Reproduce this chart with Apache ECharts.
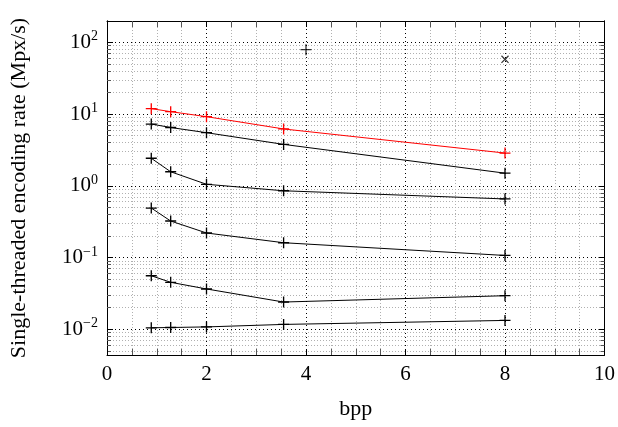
<!DOCTYPE html>
<html><head><meta charset="utf-8">
<script src="https://cdn.jsdelivr.net/npm/echarts@6/dist/echarts.min.js"></script>
<style>html,body{margin:0;padding:0;background:#fff}#c{width:618px;height:427px}</style>
</head><body><div id="c"></div>
<script>
// ---- data ----
var bpp = [0.89, 1.28, 2.0, 3.55, 8.0];
var redRate = [11.9, 10.8, 9.2, 6.2, 2.86];
var rateA = [7.26, 6.5, 5.5, 3.78, 1.50];
var rateB = [2.42, 1.57, 1.05, 0.853, 0.656];
var rateC = [0.49, 0.323, 0.22, 0.161, 0.107];
var rateD = [0.0558, 0.0452, 0.0365, 0.024, 0.0294];
var rateE = [0.0105, 0.0106, 0.0108, 0.0117, 0.0133];
var plusPoint = [4.0, 79];
var crossPoint = [8.0, 58];
var yDecades = [-2, -1, 0, 1, 2];
var xLabel = 'bpp';
var yLabel = 'Single-threaded encoding rate (Mpx/s)';

// ---- build ----
var L = Math.log10;
var yMin = -2.358, yMax = 2.297;
var minorVals = [];
for (var e = -3; e <= 2; e++) for (var k = 2; k <= 9; k++) {
  var v = L(k) + e; if (v > yMin && v < yMax) minorVals.push(v);
}
function pts(ys) { return bpp.map(function (x, i) { return [x, L(ys[i])]; }); }
var FONT = 'Liberation Serif';
var plusPath = 'path://M-0.6,-5 L0.6,-5 L0.6,5 L-0.6,5 Z M-5,-0.6 L5,-0.6 L5,0.6 L-5,0.6 Z';
function lineSeries(ys, color) {
  return {
    type: 'line', data: pts(ys), yAxisIndex: 0, xAxisIndex: 0,
    symbol: plusPath, symbolSize: 11, showSymbol: true,
    lineStyle: { color: color, width: 1 }, itemStyle: { color: color },
    animation: false, silent: true, z: 5
  };
}
var sup = { fontSize: 14, fontFamily: FONT, color: '#000', padding: [0, 0, 11, 0] };
var base = { fontSize: 21, fontFamily: FONT, color: '#000' };
var axisLineStyle = { show: true, onZero: false, lineStyle: { color: '#000', width: 1 } };

var chart = echarts.init(document.getElementById('c'), null, { renderer: 'canvas' });
chart.setOption({
  animation: false,
  backgroundColor: '#fff',
  grid: { left: 106, right: 13, top: 21, bottom: 72, containLabel: false },
  xAxis: [
    {
      type: 'value', min: 0, max: 10, interval: 2, position: 'bottom',
      name: xLabel, nameLocation: 'middle', nameGap: 43,
      nameTextStyle: { fontSize: 22, fontFamily: FONT, color: '#000' },
      axisLine: axisLineStyle,
      axisTick: { show: true, inside: true, length: 6, lineStyle: { color: '#000' } },
      minorTick: { show: true, splitNumber: 4, length: 6, lineStyle: { color: '#555' } },
      axisLabel: { fontSize: 21, fontFamily: FONT, color: '#000', margin: 9 },
      splitLine: { show: true, lineStyle: { color: '#000', width: 1, type: [1, 3] } },
      minorSplitLine: { show: true, lineStyle: { color: '#b0b0b0', width: 1, type: [1, 2] } }
    },
    {
      type: 'value', min: 0, max: 10, interval: 2, position: 'top',
      axisLine: axisLineStyle,
      axisTick: { show: true, inside: true, length: 6, lineStyle: { color: '#000' } },
      minorTick: { show: true, splitNumber: 4, length: 6, lineStyle: { color: '#555' } },
      axisLabel: { show: false }, splitLine: { show: false }
    }
  ],
  yAxis: [
    {
      type: 'value', min: yMin, max: yMax, position: 'left',
      name: yLabel, nameLocation: 'middle', nameGap: 77, nameRotate: 90,
      nameTextStyle: { fontSize: 22, fontFamily: FONT, color: '#000' },
      axisLine: axisLineStyle,
      axisTick: { show: true, inside: true, length: 6, customValues: yDecades, lineStyle: { color: '#000' } },
      axisLabel: {
        customValues: yDecades, margin: 9,
        formatter: function (v) {
          var n = Math.round(v);
          return '{b|10}{s|' + (n < 0 ? '\u2212' + (-n) : n) + '}';
        },
        rich: { b: base, s: sup }
      },
      splitLine: { show: true, lineStyle: { color: '#000', width: 1, type: [1, 3] } }
    },
    {
      type: 'value', min: yMin, max: yMax, position: 'left',
      axisLine: axisLineStyle,
      axisTick: { show: true, inside: true, length: 4, customValues: minorVals, lineStyle: { color: '#555' } },
      axisLabel: { show: false },
      splitLine: { show: true, lineStyle: { color: '#b0b0b0', width: 1, type: [1, 2] } }
    },
    {
      type: 'value', min: yMin, max: yMax, position: 'right',
      axisLine: axisLineStyle,
      axisTick: { show: true, inside: true, length: 6, customValues: yDecades, lineStyle: { color: '#000' } },
      axisLabel: { show: false }, splitLine: { show: false }
    },
    {
      type: 'value', min: yMin, max: yMax, position: 'right',
      axisLine: axisLineStyle,
      axisTick: { show: true, inside: true, length: 4, customValues: minorVals, lineStyle: { color: '#555' } },
      axisLabel: { show: false }, splitLine: { show: false }
    }
  ],
  series: [
    lineSeries(rateE, '#000'),
    lineSeries(rateD, '#000'),
    lineSeries(rateC, '#000'),
    lineSeries(rateB, '#000'),
    lineSeries(rateA, '#000'),
    lineSeries(redRate, '#ff0000'),
    {
      type: 'scatter', data: [[plusPoint[0], L(plusPoint[1])]],
      symbol: plusPath, symbolSize: 11, itemStyle: { color: '#000' }, silent: true, z: 5
    },
    {
      type: 'scatter', data: [[crossPoint[0], L(crossPoint[1])]],
      symbol: plusPath, symbolSize: 10, symbolRotate: 45, itemStyle: { color: '#000' }, silent: true, z: 5
    }
  ]
});
</script>
</body></html>
